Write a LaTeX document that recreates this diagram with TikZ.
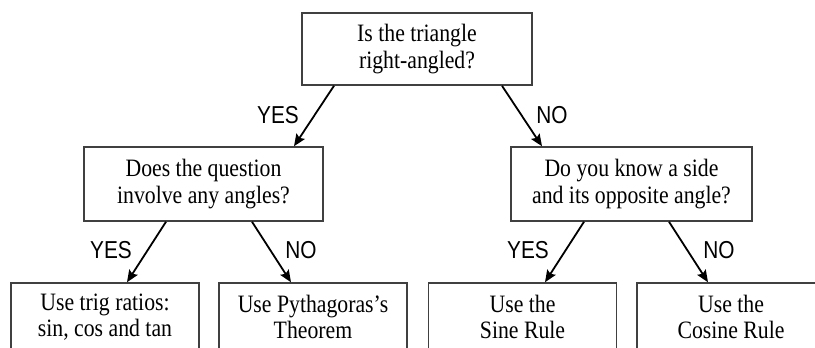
\documentclass[tikz,border=0pt]{standalone}
\usepackage{fontspec}
\setmainfont[FakeStretch=0.87]{Liberation Serif}
\newfontfamily\yesnofont[FakeStretch=0.85]{Liberation Sans}
\usetikzlibrary{arrows.meta}
\tikzset{
  question/.style={draw=black!75, line width=1.5pt, align=center, inner sep=0pt,
    font=\fontsize{25}{26.5}\selectfont},
  method/.style={question, minimum width=188pt, minimum height=68pt},
  answer/.style={font=\yesnofont\fontsize{24.5}{26}\selectfont, inner sep=0pt},
  branch/.style={line width=1.8pt, -{Stealth[length=12pt,width=10pt,inset=2pt]}}
}
\begin{document}
\begin{tikzpicture}[x=1pt,y=-1pt]
\useasboundingbox (0,0) rectangle (815,348);
\node[question, minimum width=230pt, minimum height=72pt] (q1) at (417,49) {Is the triangle\\right-angled?};
\node[question, minimum width=239pt, minimum height=74pt] (q2) at (203.5,184) {Does the question\\involve any angles?};
\node[question, minimum width=241pt, minimum height=74pt] (q3) at (631.5,184) {Do you know a side\\and its opposite angle?};
\node[method] (m1) at (105,317) {Use trig ratios:\\sin, cos and tan};
\node[method] (m2) at (313,317) {Use Pythagoras's\\Theorem};
\node[method] (m3) at (522.5,317) {Use the\\Sine Rule};
\node[method] (m4) at (731,317) {Use the\\Cosine Rule};
\draw[branch] ([xshift=-83pt]q1.south) -- ([xshift=90.5pt]q2.north);
\draw[branch] ([xshift=85pt]q1.south) -- ([xshift=-89.5pt]q3.north);
\draw[branch] ([xshift=-37.5pt]q2.south) -- ([xshift=22pt]m1.north);
\draw[branch] ([xshift=48.5pt]q2.south) -- ([xshift=-22pt]m2.north);
\draw[branch] ([xshift=-47.5pt]q3.south) -- ([xshift=22.5pt]m3.north);
\draw[branch] ([xshift=37.5pt]q3.south) -- ([xshift=-23pt]m4.north);
\node[answer] (y1) at (278,115) {YES};
\node[answer] (n1) at (552,115) {NO};
\node[answer] (y2) at (111,250) {YES};
\node[answer] (n2) at (301,250) {NO};
\node[answer] (y3) at (528,250) {YES};
\node[answer] (n3) at (719,250) {NO};
\end{tikzpicture}
\end{document}
